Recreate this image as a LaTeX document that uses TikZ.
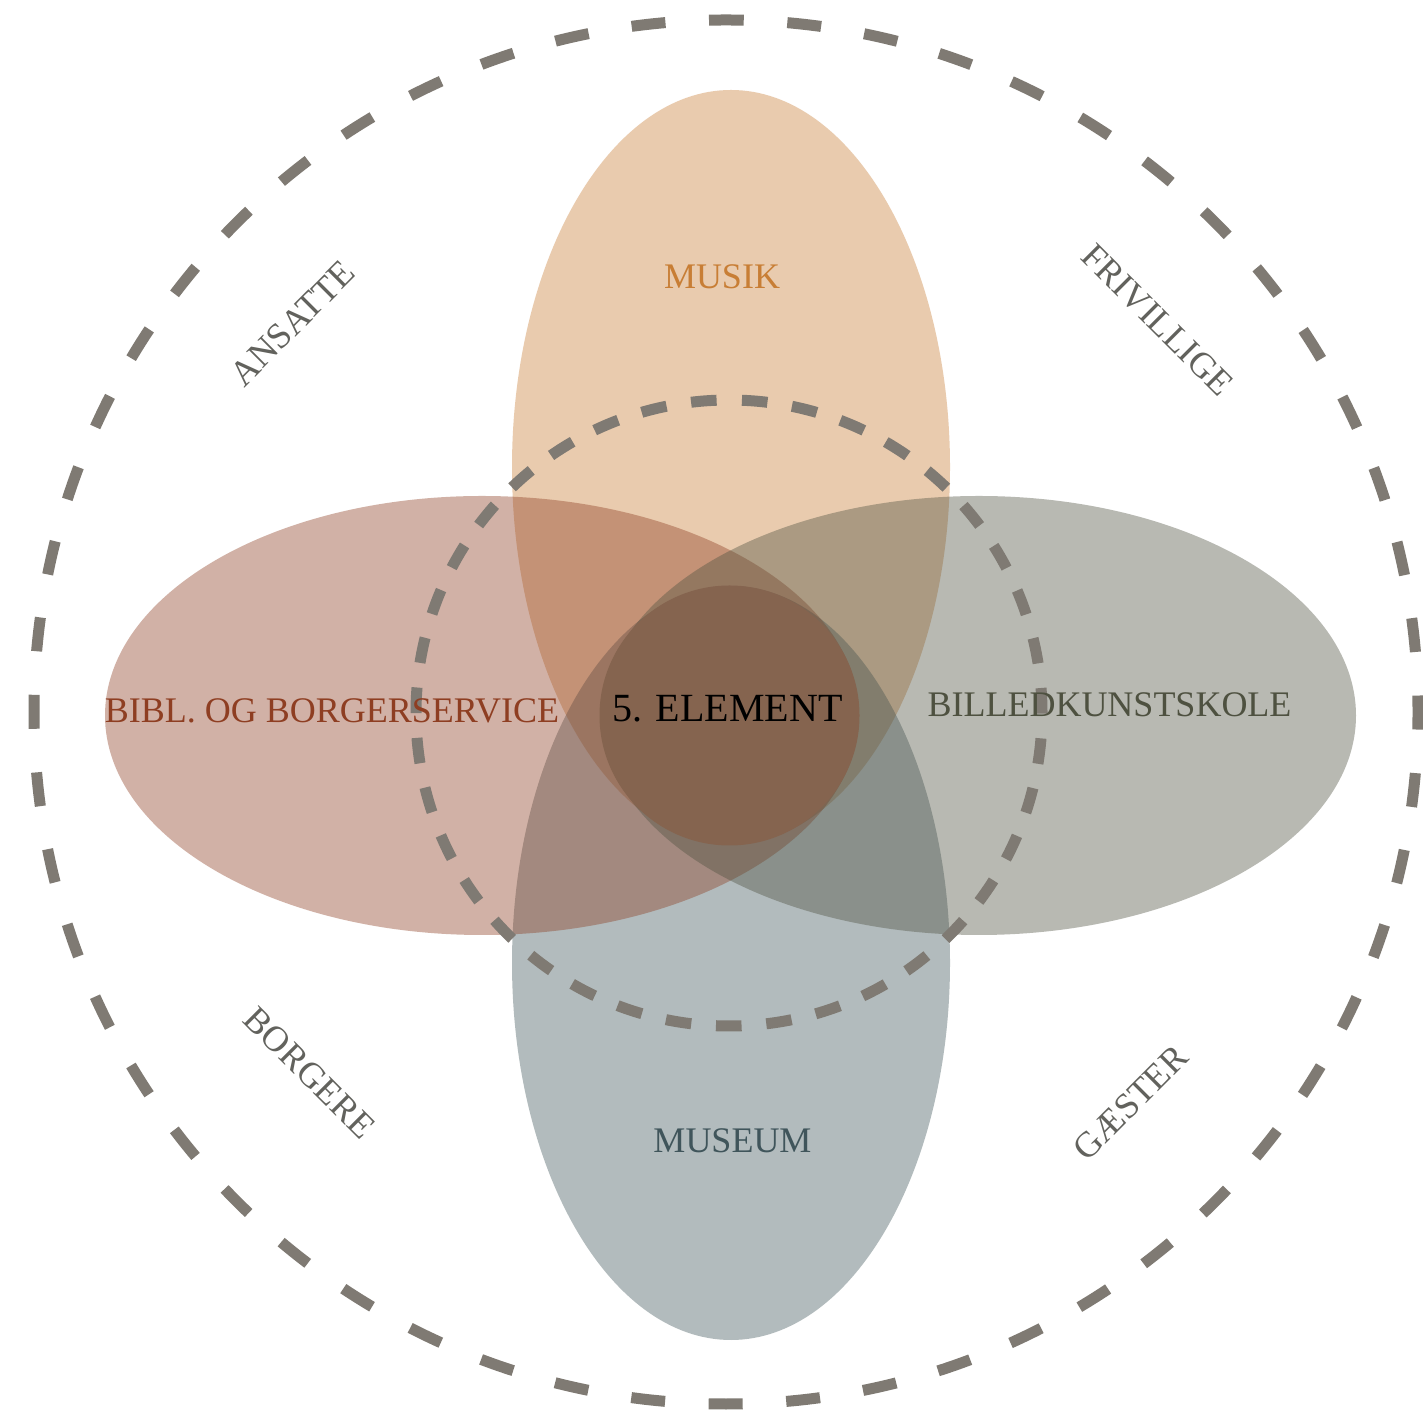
\documentclass[tikz,border=0pt]{standalone}
\usepackage{fontspec}
\setmainfont{Liberation Serif}
\definecolor{cCore}{HTML}{85644F}
\definecolor{cDash}{HTML}{7F7A73}
\definecolor{tTop}{HTML}{C87E35}
\definecolor{tLeft}{HTML}{8E3E22}
\definecolor{tRight}{HTML}{4E5140}
\definecolor{tBottom}{HTML}{40555B}
\definecolor{tOuter}{HTML}{62625D}
\begin{document}
\begin{tikzpicture}[x=0.5pt,y=0.5pt,
  petal/.style={fill opacity=0.4},
  ring/.style={draw=cDash,line width=5.5pt},
  lab/.style={inner sep=0pt,font=\fontsize{18}{20}\selectfont},
  outerlab/.style={lab,text=tOuter,font=\fontsize{18}{20}\selectfont}]
\useasboundingbox[fill=white] (0,0) rectangle (1423,1418);
% petals
\fill[petal,tTop] (731,951) ellipse [x radius=219, y radius=377];
\fill[petal,tBottom] (731,455) ellipse [x radius=219, y radius=377];
\fill[petal,tLeft] (482,702.5) ellipse [x radius=377, y radius=219.5];
\fill[petal,tRight] (979,702.5) ellipse [x radius=377, y radius=219.5];
% core
\fill[cCore] (729.5,702.5) circle [radius=130];
% dashed rings
\draw[ring,dash pattern=on 12.8pt off 12.41pt,dash phase=19pt]
  (729,1018) arc[start angle=90,end angle=450,radius=313];
\draw[ring,dash pattern=on 17pt off 21.82pt,dash phase=8.5pt]
  (726,1398) arc[start angle=90,end angle=450,radius=692];
% labels
\node[lab,text=tTop] (musik) at (722,1141) {MUSIK};
\node[lab,text=tLeft] (bibl) at (332,707) {BIBL. OG BORGERSERVICE};
\node[lab,text=black,font=\fontsize{20}{22}\selectfont] (core) at (727.5,709) {5. ELEMENT};
\node[lab,text=tRight] (billed) at (1109.5,713.5) {BILLEDKUNSTSKOLE};
\node[lab,text=tBottom] (museum) at (732.5,277.5) {MUSEUM};
\node[outerlab,rotate=45] (ansatte) at (292.5,1094.5) {ANSATTE};
\node[outerlab,rotate=-45] (frivillige) at (1157.5,1098) {FRIVILLIGE};
\node[outerlab,rotate=-45] (borgere) at (309.5,345) {BORGERE};
\node[outerlab,rotate=45] (gaester) at (1130.5,315) {GÆSTER};
\end{tikzpicture}
\end{document}
